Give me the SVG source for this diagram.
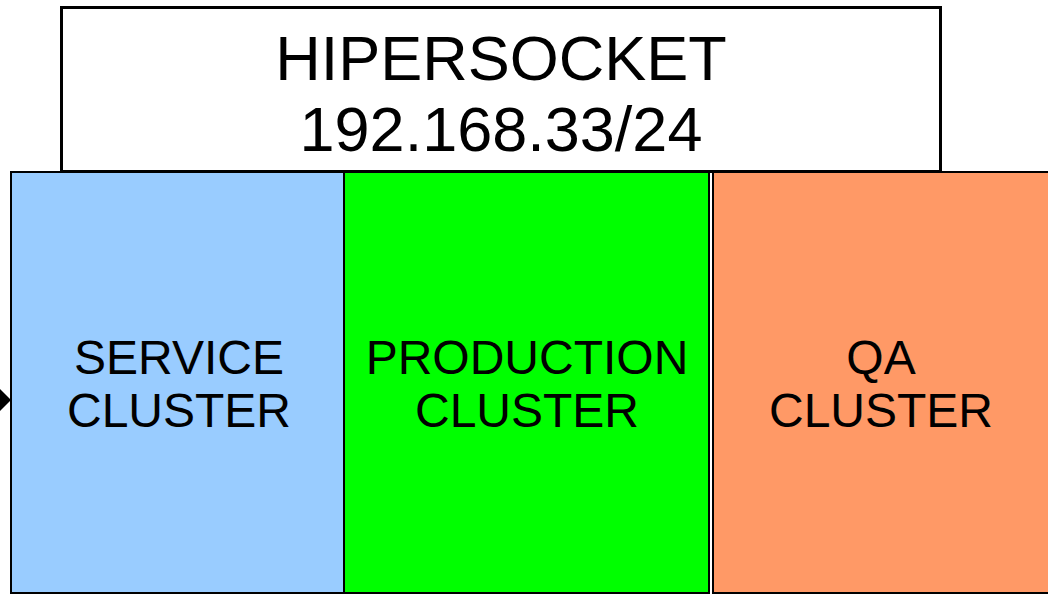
<svg xmlns="http://www.w3.org/2000/svg" width="1048" height="595" viewBox="0 0 1048 595">
<style>
.t{font-family:"Liberation Sans",Arial,sans-serif;fill:#000;text-anchor:middle}
.big{font-size:63px}
.mid{font-size:48px}
.cl{stroke:#000;stroke-width:2}
</style>
<rect width="1048" height="595" fill="#fff"/>
<g id="connectors">
<polygon points="0,389 11,400 0,411" fill="#000"/>
</g>
<g id="service">
<rect class="cl" x="11" y="172" width="333" height="421" fill="#99ccff"/>
<text class="t mid" x="179" y="374">SERVICE</text>
<text class="t mid" x="179" y="427">CLUSTER</text>
</g>
<g id="production">
<rect class="cl" x="344" y="172" width="365" height="421" fill="#00ff00"/>
<text class="t mid" x="527" y="374">PRODUCTION</text>
<text class="t mid" x="527" y="427">CLUSTER</text>
</g>
<g id="qa">
<rect class="cl" x="713" y="172" width="337" height="421" fill="#ff9966"/>
<text class="t mid" x="881" y="374">QA</text>
<text class="t mid" x="881" y="427">CLUSTER</text>
</g>
<g id="hipersocket">
<rect x="61.5" y="7.5" width="879" height="164" fill="#fff" stroke="#000" stroke-width="3"/>
<text class="t big" x="501" y="80">HIPERSOCKET</text>
<text class="t big" x="501" y="151">192.168.33/24</text>
</g>
</svg>
